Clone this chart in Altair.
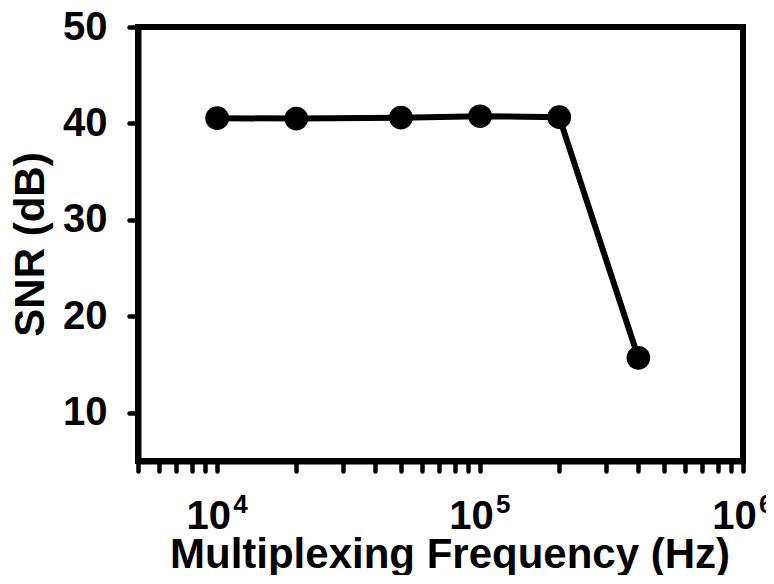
import altair as alt
import pandas as pd

# data
freq = [1e4, 2e4, 5e4, 1e5, 2e5, 4e5]
snr = [40.55, 40.5, 40.6, 40.75, 40.65, 15.7]
x_ticks = [5000, 6000, 7000, 8000, 9000,
           10000, 20000, 30000, 40000, 50000, 60000, 70000, 80000, 90000,
           100000, 200000, 300000, 400000, 500000, 600000, 700000, 800000, 900000,
           1000000]
y_ticks = [10, 20, 30, 40, 50]
decades = [10000, 100000, 1000000]
exponents = ["4", "5", "6"]

FONT = "Liberation Sans"
W, H = 605, 434

df = pd.DataFrame({"f": freq, "snr": snr})
sup_df = pd.DataFrame({"f": decades, "t": exponents})

xscale = alt.Scale(type="log", domain=[5000, 1000000])
yscale = alt.Scale(domain=[5, 50])

x_axis = alt.Axis(
    values=x_ticks,
    labelExpr="(datum.value == 10000 || datum.value == 100000 || datum.value == 1000000) ? '10' : ''",
    labelOverlap=False, labelFlush=False, labelBound=False,
    labelFont=FONT, labelFontWeight="bold", labelFontSize=40, labelColor="black",
    labelOffset=-9, labelPadding=25,
    tickSize=10, tickWidth=4.5, tickColor="black", tickCap="round",
    domainColor="black", domainWidth=6,
    grid=False,
    title="Multiplexing Frequency (Hz)",
    titleFont=FONT, titleFontWeight="bold", titleFontSize=42, titleColor="black",
    titlePadding=-2, titleX=W / 2 + 9,
)
y_axis = alt.Axis(
    values=y_ticks,
    labelFont=FONT, labelFontWeight="bold", labelFontSize=40, labelColor="black",
    labelPadding=22,
    tickSize=9, tickWidth=4.5, tickColor="black", tickCap="round",
    domainColor="black", domainWidth=6,
    grid=False,
    title="SNR (dB)",
    titleFont=FONT, titleFontWeight="bold", titleFontSize=42, titleColor="black",
    titlePadding=10,
)

base = alt.Chart(df)
line = base.mark_line(color="black", strokeWidth=6).encode(
    x=alt.X("f:Q", scale=xscale, axis=x_axis),
    y=alt.Y("snr:Q", scale=yscale, axis=y_axis),
)
points = base.mark_circle(color="black", size=560, opacity=1).encode(
    x=alt.X("f:Q", scale=xscale),
    y=alt.Y("snr:Q", scale=yscale),
)
sup = alt.Chart(sup_df).mark_text(
    font=FONT, fontWeight="bold", fontSize=26, align="left", baseline="middle",
    dx=16, color="black",
).encode(
    x=alt.X("f:Q", scale=xscale),
    y=alt.value(H + 44),
    text="t:N",
)

chart = alt.layer(line, points, sup).properties(
    width=W, height=H,
    autosize=alt.AutoSizeParams(type="none"),
    padding={"left": 130, "top": 19, "right": 23, "bottom": 114},
).configure_view(stroke="black", strokeWidth=6)

chart.save("out.html", embed_options={"renderer": "svg", "actions": False})
